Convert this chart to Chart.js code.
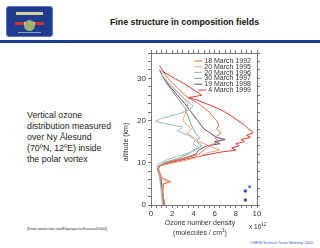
<!DOCTYPE html>
<html>
<head>
<meta charset="utf-8">
<script src="https://cdn.jsdelivr.net/npm/chart.js@4.4.1/dist/chart.umd.min.js"></script>
<style>
  html, body { margin: 0; padding: 0; background: #fff; }
  body { width: 320px; height: 248px; position: relative; overflow: hidden; font-family: "Liberation Sans", Arial, sans-serif; }
  #chartWrap { position: absolute; left: 0; top: 0; width: 320px; height: 248px; }
  .abs { position: absolute; white-space: nowrap; }
  #logo { left: 6px; top: 6px; width: 47px; height: 31px; background: #1f3b8c; border-radius: 4px; box-shadow: 0 0 0 1px #5a78c0 inset; }
  #logo .band { position: absolute; left: 9px; top: 16px; width: 29px; height: 3px; background: linear-gradient(90deg, #c33 0 30%, #eee 30% 70%, #c33 70%); }
  #logo .globe { position: absolute; left: 18px; top: 14px; width: 11px; height: 11px; border-radius: 50%; background: #9bb070; }
  #logo .name { position: absolute; left: 10px; top: 6px; width: 27px; height: 3px; background: #d8d0a0; }
  #logo .sub { position: absolute; left: 12px; top: 26px; width: 23px; height: 1px; background: #8fa0d0; }
  #title { left: 110px; top: 17px; font-size: 8.8px; font-weight: bold; color: #111; }
  #bar { position: absolute; left: 0; top: 40px; width: 320px; height: 3px; background: #1a3a94; }
  #desc { left: 27px; top: 110px; font-size: 8.8px; line-height: 11px; color: #222; }
  #src { left: 27px; top: 226px; font-size: 4.3px; color: #333; }
  #foot { left: 250px; top: 240px; font-size: 4px; color: #3a5fc0; }
  #ytitle { left: 96px; top: 138px; width: 60px; text-align: center; font-size: 7px; line-height: 8px; color: #333; transform: rotate(-90deg); }
  #xtitle { left: 160px; top: 219px; width: 80px; font-size: 7px; line-height: 7.5px; color: #333; text-align: center; }
  #xmult { left: 249px; top: 222px; font-size: 6.5px; color: #333; }
  #xmult sup { font-size: 4.5px; }
</style>
</head>
<body>
<div id="logo" class="abs"><div class="name"></div><div class="band"></div><div class="globe"></div><div class="sub"></div></div>
<div id="title" class="abs">Fine structure in composition fields</div>
<div id="bar"></div>
<div id="desc" class="abs">Vertical ozone<br>distribution measured<br>over Ny Ålesund<br>(70ºN, 12ºE) inside<br>the polar vortex</div>
<div id="src" class="abs">[from www.nilu.no/80projects/theseo2000]</div>
<div id="foot" class="abs">CHEM Science Team Meeting 2000</div>
<div id="chartWrap"><canvas id="ozoneChart"></canvas></div>
<div id="ytitle" class="abs">altitude (km)</div>
<div id="xtitle" class="abs">Ozone number density<br>(molecules / cm<sup style="font-size:4.5px">3</sup>)</div>
<div id="xmult" class="abs">x 10<sup>12</sup></div>
<script>
// series labels + colours
const labels = ['18 March 1992', '20 March 1995', '20 March 1996', '30 March 1997', '19 March 1998', '4 March 1999'];
const colors = ['#e8734a', '#f2a27a', '#9fb8c6', '#7aa889', '#55478e', '#d93b34'];

// altitude (km) and density (x10^12 molecules/cm3)
const alt1992 = [32, 30, 28, 26, 25, 24, 23, 22, 21, 20, 19, 18, 17, 16, 15, 14, 13, 12, 11, 10, 9.2, 8.5, 6.5, 5.8, 5.5, 5, 3, 0];
const dens1992 = [1.0, 1.6, 2.4, 3.2, 3.8, 4.5, 5.0, 5.5, 5.8, 6.2, 6.4, 6.2, 6.6, 6.0, 6.4, 5.5, 5.0, 4.5, 3.0, 1.5, 0.8, 0.7, 1.0, 1.6, 1.9, 1.2, 1.1, 1.3];

const alt1995 = [30, 28, 26, 24, 22, 20, 18, 17, 16, 15, 14, 13, 12.5, 11, 10, 9.3, 8.5, 6, 5.5, 5, 3, 0];
const dens1995 = [1.3, 2.0, 2.8, 3.5, 3.3, 3.0, 3.8, 3.4, 4.0, 4.5, 5.5, 6.5, 5.5, 4.0, 2.2, 0.9, 0.7, 1.0, 1.7, 1.1, 1.1, 1.3];

const alt1996 = [31, 29, 27, 25, 23.5, 22.5, 21.5, 20.5, 19.8, 19.2, 18.5, 17.5, 16.5, 15.5, 14.5, 13.5, 12.5, 11.5, 10.5, 9.5, 8, 5, 2, 0];
const dens1996 = [1.0, 1.6, 2.4, 3.2, 4.0, 3.6, 2.5, 1.0, 0.4, 1.5, 3.0, 2.5, 3.5, 4.2, 4.0, 4.5, 3.8, 2.4, 1.3, 0.6, 0.7, 0.9, 1.0, 1.1];

const alt1997 = [31, 29, 27, 25, 23, 21, 19, 17, 16, 15, 14, 13, 12, 11, 10, 9, 7, 4, 1, 0];
const dens1997 = [1.0, 1.4, 2.0, 2.6, 3.2, 3.5, 3.8, 4.2, 4.6, 4.3, 4.8, 4.0, 3.5, 2.5, 1.2, 0.7, 0.8, 1.0, 1.1, 1.2];

const alt1998 = [32, 30, 28, 26, 24, 22, 20, 18, 17, 16, 15.5, 15, 14.5, 14, 13, 12, 11, 10, 9.3, 8.5, 7, 5, 3, 1, 0];
const dens1998 = [0.8, 1.2, 1.8, 2.5, 3.2, 3.8, 4.4, 5.0, 5.6, 6.2, 7.0, 6.0, 6.5, 5.2, 4.5, 4.2, 3.0, 1.5, 0.8, 0.6, 0.9, 1.0, 1.1, 1.2, 1.2];

const alt1999 = [33, 31.5, 30, 28.5, 27, 26, 25.4, 25, 24, 23, 22, 21, 20, 19, 18, 17.5, 17, 16.5, 16, 15.5, 15, 14.5, 14, 13.5, 13, 12.5, 12, 11, 10, 9.3, 8.5, 7, 5, 3, 1, 0];
const dens1999 = [0.8, 1.2, 2.2, 3.3, 4.2, 4.8, 3.5, 4.2, 5.2, 6.2, 7.0, 7.6, 8.2, 8.8, 9.2, 9.5, 9.6, 9.0, 9.4, 8.5, 8.8, 8.0, 8.3, 7.6, 8.0, 6.5, 5.5, 3.5, 1.8, 0.8, 0.6, 0.8, 1.0, 1.1, 1.2, 1.2];

const altSeries = [alt1992, alt1995, alt1996, alt1997, alt1998, alt1999];
const densSeries = [dens1992, dens1995, dens1996, dens1997, dens1998, dens1999];

// the three blue dots bottom right
const dotX = [8.9, 9.3, 8.9];
const dotY = [3.3, 4.3, 1.2];

const profiles = labels.map((name, i) => ({
    label: name,
    data: densSeries[i].map((d, k) => ({ x: d, y: altSeries[i][k] })),
    borderColor: colors[i],
    borderWidth: 1,
    pointRadius: 0,
    showLine: true,
    fill: false,
    tension: 0
}));

const dots = {
    label: 'dots',
    data: dotX.map((x, k) => ({ x: x, y: dotY[k] })),
    backgroundColor: '#3356b0',
    borderWidth: 0,
    pointRadius: [1.8, 1.3, 1.8],
    showLine: false
};

// legend drawn inside the plot, top right
const insideLegend = {
    id: 'insideLegend',
    afterDatasetsDraw(chart) {
        const ctx = chart.ctx;
        ctx.save();
        ctx.font = '7px "Liberation Sans", Arial, sans-serif';
        ctx.textAlign = 'right';
        ctx.textBaseline = 'middle';
        labels.forEach((name, i) => {
            const y = 61 + i * 5.8;
            const w = ctx.measureText(name).width;
            ctx.strokeStyle = colors[i];
            ctx.lineWidth = 1;
            ctx.beginPath();
            ctx.moveTo(251 - w - 10, y);
            ctx.lineTo(251 - w - 2, y);
            ctx.stroke();
            ctx.fillStyle = '#333';
            ctx.fillText(name, 251, y);
        });
        ctx.restore();
    }
};

const axisGrid = { drawOnChartArea: false, drawTicks: true, tickLength: 3, color: '#555', lineWidth: 0.8 };
const axisBorder = { display: true, color: '#555', width: 0.8 };
const tickFont = { family: '"Liberation Sans", Arial, sans-serif', size: 8 };

new Chart(document.getElementById('ozoneChart'), {
    type: 'scatter',
    data: { datasets: profiles.concat([dots]) },
    options: {
        responsive: true,
        maintainAspectRatio: false,
        animation: false,
        layout: { padding: { left: 131, top: 49, right: 59, bottom: 28 } },
        scales: {
            x: {
                type: 'linear', position: 'bottom', min: 0, max: 10,
                grid: axisGrid, border: axisBorder,
                ticks: { stepSize: 0.5, autoSkip: false, maxRotation: 0, color: '#333', font: tickFont, padding: 1,
                         callback: v => (v % 2 === 0 ? v : '') },
                afterFit: s => { s.height = 15; }
            },
            x2: {
                type: 'linear', position: 'top', min: 0, max: 10,
                grid: axisGrid, border: axisBorder,
                ticks: { stepSize: 0.5, autoSkip: false, maxRotation: 0, font: { size: 1 }, callback: () => '' },
                afterFit: s => { s.height = 4; }
            },
            y: {
                type: 'linear', position: 'left', min: 0, max: 36,
                grid: axisGrid, border: axisBorder,
                ticks: { stepSize: 2, autoSkip: false, color: '#333', font: tickFont, padding: 2,
                         callback: v => (v % 10 === 0 ? v : '') },
                afterFit: s => { s.width = 20; }
            },
            y2: {
                type: 'linear', position: 'right', min: 0, max: 36,
                grid: axisGrid, border: axisBorder,
                ticks: { stepSize: 2, autoSkip: false, font: { size: 1 }, callback: () => '' },
                afterFit: s => { s.width = 4; }
            }
        },
        plugins: {
            legend: { display: false },
            tooltip: { enabled: false }
        }
    },
    plugins: [insideLegend]
});
</script>
</body>
</html>
